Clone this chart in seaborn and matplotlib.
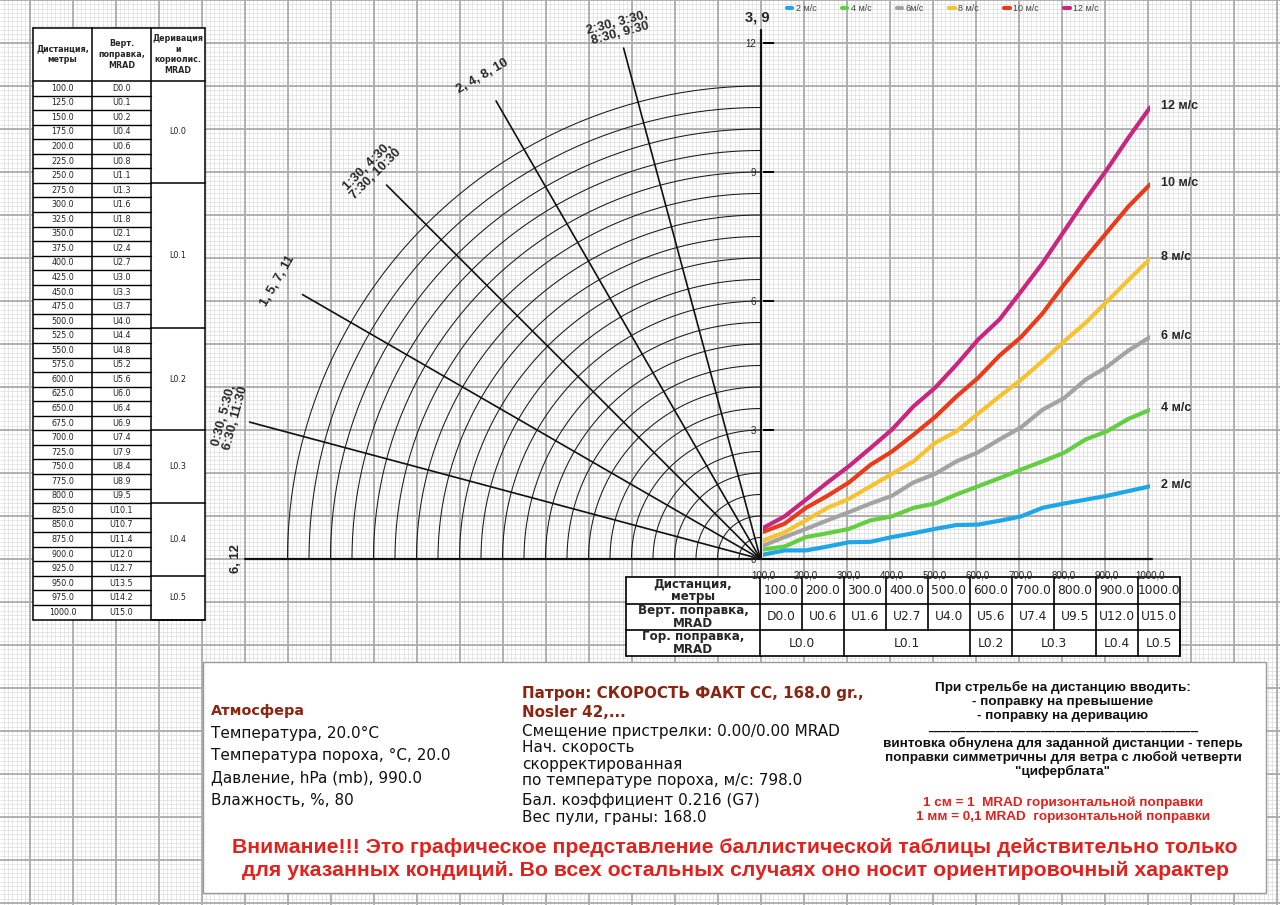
import matplotlib

matplotlib.use("Agg")

import matplotlib.pyplot as plt
import numpy as np
import pandas as pd
import seaborn as sns
from matplotlib.patches import Rectangle

# ---------------------------------------------------------------- data
distances = [100, 150, 200, 250, 300, 350, 400, 450, 500, 550,
             600, 650, 700, 750, 800, 850, 900, 950, 1000]
wind_labels = ["2 м/с", "4 м/с", "6 м/с", "8 м/с", "10 м/с", "12 м/с"]
legend_labels = ["2 м/с", "4 м/с", "6м/с", "8 м/с", "10 м/с", "12 м/с"]
drift_2 = [0.10, 0.20, 0.20, 0.29, 0.39, 0.40, 0.51, 0.60, 0.70, 0.79,
           0.80, 0.89, 0.99, 1.19, 1.29, 1.38, 1.47, 1.58, 1.69]
drift_4 = [0.22, 0.29, 0.51, 0.60, 0.70, 0.90, 0.99, 1.19, 1.29, 1.50,
           1.69, 1.88, 2.08, 2.27, 2.47, 2.78, 2.97, 3.26, 3.47]
drift_6 = [0.31, 0.51, 0.70, 0.90, 1.09, 1.29, 1.47, 1.78, 1.98, 2.27,
           2.48, 2.78, 3.06, 3.47, 3.74, 4.17, 4.47, 4.85, 5.16]
drift_8 = [0.43, 0.62, 0.90, 1.19, 1.40, 1.69, 1.98, 2.27, 2.70, 2.97,
           3.38, 3.78, 4.17, 4.60, 5.06, 5.49, 5.99, 6.49, 6.98]
drift_10 = [0.63, 0.82, 1.19, 1.47, 1.78, 2.19, 2.50, 2.89, 3.30, 3.78,
            4.21, 4.73, 5.16, 5.71, 6.38, 7.00, 7.60, 8.20, 8.71]
drift_12 = [0.72, 0.99, 1.38, 1.78, 2.16, 2.58, 3.01, 3.55, 3.98, 4.52,
            5.10, 5.57, 6.22, 6.88, 7.62, 8.36, 9.06, 9.80, 10.50]
wind_colors = ["#1fa6e8", "#62cf43", "#a3a3a3", "#f6c22e", "#ea3a1a", "#c8267f"]

x_ticks = [100, 200, 300, 400, 500, 600, 700, 800, 900, 1000]
x_tick_labels = ["100,0", "200,0", "300,0", "400,0", "500,0",
                 "600,0", "700,0", "800,0", "900,0", "1000,0"]
y_ticks = [0, 3, 6, 9, 12]

# clock directions of the wind (degrees above the horizontal)
clock_angles = [15, 30, 45, 60, 75]
clock_labels = ["0:30, 5:30,\n6:30, 11:30", "1, 5, 7, 11",
                "1:30, 4:30,\n7:30, 10:30", "2, 4, 8, 10",
                "2:30, 3:30,\n8:30, 9:30"]
arc_radii = np.arange(0.5, 11.01, 0.5)

table_dist = ["100.0", "125.0", "150.0", "175.0", "200.0", "225.0", "250.0",
              "275.0", "300.0", "325.0", "350.0", "375.0", "400.0", "425.0",
              "450.0", "475.0", "500.0", "525.0", "550.0", "575.0", "600.0",
              "625.0", "650.0", "675.0", "700.0", "725.0", "750.0", "775.0",
              "800.0", "825.0", "850.0", "875.0", "900.0", "925.0", "950.0",
              "975.0", "1000.0"]
table_vert = ["D0.0", "U0.1", "U0.2", "U0.4", "U0.6", "U0.8", "U1.1",
              "U1.3", "U1.6", "U1.8", "U2.1", "U2.4", "U2.7", "U3.0",
              "U3.3", "U3.7", "U4.0", "U4.4", "U4.8", "U5.2", "U5.6",
              "U6.0", "U6.4", "U6.9", "U7.4", "U7.9", "U8.4", "U8.9",
              "U9.5", "U10.1", "U10.7", "U11.4", "U12.0", "U12.7", "U13.5",
              "U14.2", "U15.0"]
table_hor = ["L0.0", "L0.1", "L0.2", "L0.3", "L0.4", "L0.5"]
table_hor_rows = [7, 10, 7, 5, 5, 3]

bottom_dist = ["100.0", "200.0", "300.0", "400.0", "500.0",
               "600.0", "700.0", "800.0", "900.0", "1000.0"]
bottom_vert = ["D0.0", "U0.6", "U1.6", "U2.7", "U4.0",
               "U5.6", "U7.4", "U9.5", "U12.0", "U15.0"]
bottom_hor = ["L0.0", "L0.1", "L0.2", "L0.3", "L0.4", "L0.5"]
bottom_hor_cols = [2, 3, 1, 2, 1, 1]

atmosphere_lines = ["Температура, 20.0°C", "Температура пороха, °C, 20.0",
                    "Давление, hPa (mb), 990.0", "Влажность, %, 80"]
cartridge_title = ["Патрон: СКОРОСТЬ ФАКТ СС, 168.0 gr.,", "Nosler 42,..."]
cartridge_lines = ["Смещение пристрелки: 0.00/0.00 MRAD", "Нач. скорость",
                   "скорректированная", "по температуре пороха, м/с: 798.0",
                   "Бал. коэффициент 0.216 (G7)", "Вес пули, граны: 168.0"]
note_lines = ["При стрельбе на дистанцию вводить:", "- поправку на превышение",
              "- поправку на деривацию", "_" * 36,
              "винтовка обнулена для заданной дистанции - теперь",
              "поправки симметричны для ветра с любой четверти",
              "\"циферблата\""]
scale_lines = ["1 см = 1  MRAD горизонтальной поправки",
               "1 мм = 0,1 MRAD  горизонтальной поправки"]
warning_lines = ["Внимание!!! Это графическое представление баллистической "
                 "таблицы действительно только",
                 "для указанных кондиций. Во всех остальных случаях оно носит "
                 "ориентировочный характер"]

# ---------------------------------------------------------------- layout
W, H = 1280, 905
OX, OY, CELL = 760.5, 559.0, 43.0
DARKRED = "#8b2410"
RED = "#e3211c"
ARIAL = "Liberation Sans"

sns.set_theme(style="white")
plt.rcParams["font.family"] = ["DejaVu Sans"]

fig = plt.figure(figsize=(W / 100, H / 100), dpi=100)
bg = fig.add_axes([0, 0, 1, 1])
bg.set_xlim(0, W)
bg.set_ylim(H, 0)
bg.axis("off")

# graph paper
minor_x = np.arange(OX - 18 * CELL, W + 1, CELL / 10)
minor_y = np.arange(OY - 13 * CELL, H + 1, CELL / 10)
bg.vlines(minor_x, 0, H, color="#d9d9d9", lw=0.45, zorder=0)
bg.hlines(minor_y, 0, W, color="#d9d9d9", lw=0.45, zorder=0)
major_x = np.arange(OX - 18 * CELL, W + 1, CELL)
major_y = np.arange(OY - 13 * CELL, H + 1, CELL)
bg.vlines(major_x, 0, H, color="#ababab", lw=1.3, zorder=0)
bg.hlines(major_y, 0, W, color="#ababab", lw=1.3, zorder=0)

# quarter-circle wind diagram
theta = np.radians(np.linspace(90, 180, 200))
for r in arc_radii:
    bg.plot(OX + r * CELL * np.cos(theta), OY - r * CELL * np.sin(theta),
            color="#1a1a1a", lw=0.75, zorder=2)
ray_len = 12.3
for ang, lab in zip(clock_angles, clock_labels):
    a = np.radians(180 - ang)
    bg.plot([OX, OX + ray_len * CELL * np.cos(a)],
            [OY, OY - ray_len * CELL * np.sin(a)],
            color="#111111", lw=1.2, zorder=2)
    r_lab = 12.78 if "\n" in lab else 12.95
    bg.text(OX + r_lab * CELL * np.cos(a), OY - r_lab * CELL * np.sin(a), lab,
            rotation=90 - ang, rotation_mode="anchor", ha="center", va="center",
            fontsize=9.3, fontweight="bold", family=ARIAL, linespacing=0.95,
            zorder=6)
# horizontal ("6, 12") and vertical ("3, 9") axes
bg.plot([OX - 12.0 * CELL, OX + 9.1 * CELL], [OY, OY], color="#111111",
        lw=1.6, zorder=4)
bg.plot([OX, OX], [OY, OY - ray_len * CELL], color="#111111", lw=1.6, zorder=4)
bg.text(OX - 12.2 * CELL, OY, "6, 12", rotation=90, ha="center", va="center",
        fontsize=9.3, fontweight="bold", family=ARIAL)
bg.text(OX - 3, OY - 12.6 * CELL, "3, 9", ha="center", va="center",
        fontsize=10.5, fontweight="bold", family=ARIAL)

# ---------------------------------------------------------------- left table
lx = [33, 92, 151, 205]
l_top, l_head, l_bot = 28, 81, 619.5
row_h = (l_bot - l_head) / len(table_dist)
bg.add_patch(Rectangle((lx[0], l_top), lx[-1] - lx[0], l_bot - l_top,
                       facecolor="white", edgecolor="none", zorder=3))
for x in lx:
    bg.plot([x, x], [l_top, l_bot], color="black", lw=1.1, zorder=4)
bg.plot([lx[0], lx[-1]], [l_top, l_top], color="black", lw=1.1, zorder=4)
bg.plot([lx[0], lx[-1]], [l_bot, l_bot], color="black", lw=1.1, zorder=4)
bg.plot([lx[0], lx[-1]], [l_head, l_head], color="black", lw=1.1, zorder=4)
for i in range(1, len(table_dist)):
    y = l_head + i * row_h
    bg.plot([lx[0], lx[2]], [y, y], color="black", lw=1.0, zorder=4)
heads = ["Дистанция,\nметры", "Верт.\nпоправка,\nMRAD",
         "Деривация\nи\nкориолис.\nMRAD"]
for j, txt in enumerate(heads):
    bg.text((lx[j] + lx[j + 1]) / 2, (l_top + l_head) / 2, txt, ha="center",
            va="center", fontsize=5.8, fontweight="bold", linespacing=1.25,
            zorder=5)
for i, (d, v) in enumerate(zip(table_dist, table_vert)):
    yc = l_head + (i + 0.5) * row_h
    bg.text((lx[0] + lx[1]) / 2, yc, d, ha="center", va="center",
            fontsize=5.8, color="#222222", zorder=5)
    bg.text((lx[1] + lx[2]) / 2, yc, v, ha="center", va="center",
            fontsize=5.8, color="#222222", zorder=5)
start = 0
for lab, n in zip(table_hor, table_hor_rows):
    y0 = l_head + start * row_h
    y1 = l_head + (start + n) * row_h
    bg.plot([lx[2], lx[3]], [y1, y1], color="black", lw=1.1, zorder=4)
    bg.text((lx[2] + lx[3]) / 2, (y0 + y1) / 2, lab, ha="center",
            va="center", fontsize=5.8, color="#222222", zorder=5)
    start += n

# ---------------------------------------------------------------- bottom table
bx0, bx1, bx_end = 626, 760, 1180
by = [577, 603.5, 630, 656]
col_w = (bx_end - bx1) / len(bottom_dist)
bg.add_patch(Rectangle((bx0, by[0]), bx_end - bx0, by[-1] - by[0],
                       facecolor="white", edgecolor="none", zorder=3))
for y in by:
    bg.plot([bx0, bx_end], [y, y], color="black", lw=1.2, zorder=4)
for x in [bx0, bx1, bx_end]:
    bg.plot([x, x], [by[0], by[-1]], color="black", lw=1.2, zorder=4)
for k in range(1, len(bottom_dist)):
    x = bx1 + k * col_w
    bg.plot([x, x], [by[0], by[2]], color="black", lw=1.2, zorder=4)
b_heads = ["Дистанция,\nметры", "Верт. поправка,\nMRAD",
           "Гор. поправка,\nMRAD"]
for r, txt in enumerate(b_heads):
    bg.text((bx0 + bx1) / 2, (by[r] + by[r + 1]) / 2, txt, ha="center",
            va="center", fontsize=8.6, fontweight="bold", linespacing=0.95,
            zorder=5)
for k, (d, v) in enumerate(zip(bottom_dist, bottom_vert)):
    xc = bx1 + (k + 0.5) * col_w
    bg.text(xc, (by[0] + by[1]) / 2, d, ha="center", va="center",
            fontsize=8.8, color="#222222", zorder=5)
    bg.text(xc, (by[1] + by[2]) / 2, v, ha="center", va="center",
            fontsize=8.8, color="#222222", zorder=5)
start = 0
for lab, n in zip(bottom_hor, bottom_hor_cols):
    x0 = bx1 + start * col_w
    x1 = bx1 + (start + n) * col_w
    bg.plot([x1, x1], [by[2], by[3]], color="black", lw=1.2, zorder=4)
    bg.text((x0 + x1) / 2, (by[2] + by[3]) / 2, lab, ha="center",
            va="center", fontsize=8.8, color="#222222", zorder=5)
    start += n

# ---------------------------------------------------------------- text box
bg.add_patch(Rectangle((203, 662), 1063, 231, facecolor="white",
                       edgecolor="#9a9a9a", lw=1.0, zorder=3))
bg.text(211, 711, "Атмосфера", ha="left", va="center", fontsize=10.4,
        fontweight="bold", color=DARKRED, zorder=5)
for i, line in enumerate(atmosphere_lines):
    bg.text(211, 733 + i * 22.5, line, ha="left", va="center", fontsize=11,
            color="#111111", zorder=5)
for i, line in enumerate(cartridge_title):
    bg.text(522, 693 + i * 19, line, ha="left", va="center", fontsize=10.9,
            fontweight="bold", color=DARKRED, zorder=5)
cart_y = [731, 747, 764, 780, 800, 817]
for y, line in zip(cart_y, cartridge_lines):
    bg.text(522, y, line, ha="left", va="center", fontsize=11,
            color="#111111", zorder=5)
note_y = [687, 702, 716, 727, 743, 757, 771]
for y, line in zip(note_y, note_lines):
    bg.text(1063, y, line, ha="center", va="center", fontsize=9.7,
            fontweight="bold", family=ARIAL, color="#111111", zorder=5)
for i, line in enumerate(scale_lines):
    bg.text(1063, 803 + i * 14, line, ha="center", va="center", fontsize=9.7,
            fontweight="bold", family=ARIAL, color=RED, zorder=5)
for i, line in enumerate(warning_lines):
    bg.text(735, 847 + i * 23, line, ha="center", va="center", fontsize=15.3,
            fontweight="bold", family=ARIAL, color=RED, zorder=5)

# ---------------------------------------------------------------- wind chart
df = pd.DataFrame({
    "distance": distances * 6,
    "drift": drift_2 + drift_4 + drift_6 + drift_8 + drift_10 + drift_12,
    "wind": [w for w in wind_labels for _ in distances],
})
ax = fig.add_axes([763 / W, (H - OY) / H, 9 * CELL / W, 12 * CELL / H])
ax.patch.set_visible(False)
sns.lineplot(data=df, x="distance", y="drift", hue="wind",
             hue_order=wind_labels, palette=wind_colors, linewidth=3.0,
             legend=False, ax=ax)
ax.set_xlim(100, 1000)
ax.set_ylim(0, 12)
for s in ax.spines.values():
    s.set_visible(False)
ax.set_xlabel("")
ax.set_ylabel("")
ax.set_xticks(x_ticks)
ax.set_xticklabels(x_tick_labels, fontsize=7, family=ARIAL)
ax.set_yticks(y_ticks)
ax.set_yticklabels([str(v) for v in y_ticks], fontsize=7, family=ARIAL)
ax.tick_params(axis="x", length=0, pad=8)
ax.tick_params(axis="y", left=True, direction="in", length=8, width=1.4,
               pad=5, color="black")
ax.grid(False)

for lab, vals in zip(wind_labels, [drift_2, drift_4, drift_6, drift_8,
                                   drift_10, drift_12]):
    ax.annotate(lab, (distances[-1], vals[-1]), xytext=(8, 1),
                textcoords="offset points", ha="left", va="center",
                fontsize=9, fontweight="bold", family=ARIAL,
                annotation_clip=False)

ax.legend(ax.get_lines()[:6], legend_labels, loc="center left",
          bbox_to_anchor=(814 / W - 763 / W, 1 + (OY - 12 * CELL - 9) / (12 * CELL)),
          bbox_transform=ax.transAxes, ncol=6, frameon=False,
          handlelength=0.6, handletextpad=0.4, columnspacing=2.8,
          labelcolor="#444444", prop={"family": ARIAL, "size": 6.5})

fig.savefig("out.png", dpi=100)
